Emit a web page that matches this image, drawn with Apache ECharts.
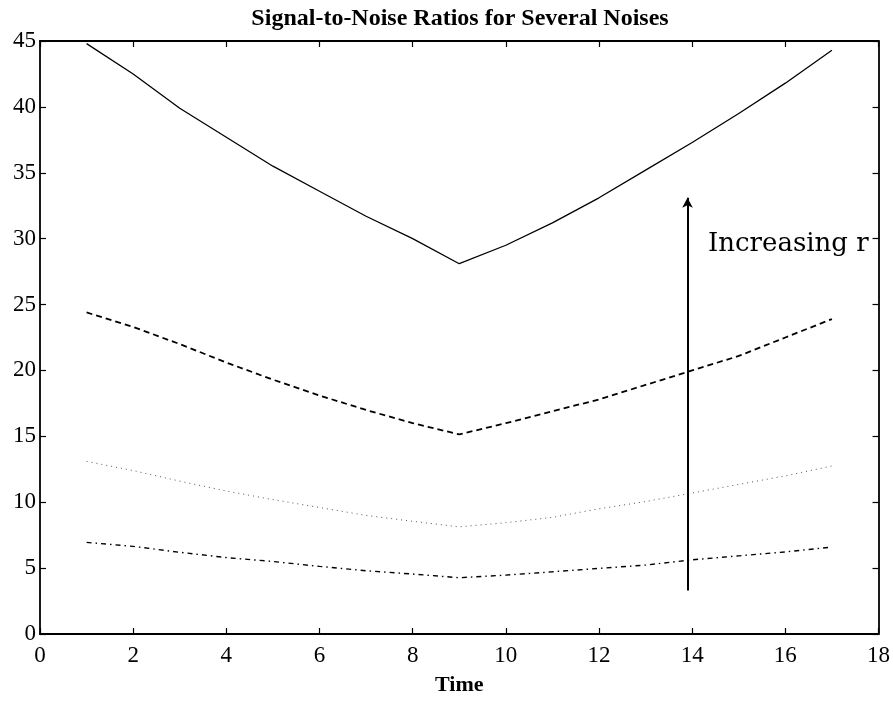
<!DOCTYPE html>
<html>
<head>
<meta charset="utf-8">
<script src="https://cdn.jsdelivr.net/npm/echarts@6/dist/echarts.min.js"></script>
<style>
  html, body { margin: 0; padding: 0; background: #fff; }
  #snr { width: 893px; height: 717px; }
</style>
</head>
<body>
<div id="snr"></div>
<script>
    // time steps and SNR curves (one per noise level)
    var times = [1, 2, 3, 4, 5, 6, 7, 8, 9, 10, 11, 12, 13, 14, 15, 16, 17];
    var snrSolid = [44.8, 42.5, 39.9, 37.7, 35.5, 33.6, 31.7, 30.0, 28.1, 29.5, 31.2, 33.1, 35.2, 37.3, 39.5, 41.8, 44.3];
    var snrDashed = [24.4, 23.3, 22.0, 20.6, 19.3, 18.1, 17.0, 16.0, 15.15, 16.0, 16.9, 17.8, 18.9, 20.0, 21.1, 22.5, 23.9];
    var snrDotted = [13.1, 12.4, 11.6, 10.85, 10.2, 9.6, 9.0, 8.55, 8.13, 8.45, 8.85, 9.5, 10.05, 10.7, 11.35, 12.0, 12.75];
    var snrDashDot = [6.95, 6.65, 6.2, 5.8, 5.5, 5.13, 4.8, 4.55, 4.27, 4.47, 4.72, 4.98, 5.23, 5.63, 5.93, 6.23, 6.6];

    var xTicks = [0, 2, 4, 6, 8, 10, 12, 14, 16, 18];
    var yTicks = [0, 5, 10, 15, 20, 25, 30, 35, 40, 45];

    // arrow "Increasing r"
    var arrowFrom = [13.9, 3.3];
    var arrowTo = [13.9, 33.1];
    var arrowText = [14.34, 29.6];

    function pairs(ys) {
        return times.map(function (t, i) { return [t, ys[i]]; });
    }

    var dom = document.getElementById('snr');
    var snrChart = echarts.init(dom, null, { renderer: 'canvas' });

    var serif = 'Liberation Serif';
    var axisLine = { show: true, onZero: false, lineStyle: { color: '#000', width: 1.8 } };
    var tick = { show: true, inside: true, length: 6, lineStyle: { color: '#000', width: 1.2 } };

    var option = {
        backgroundColor: '#fff',
        animation: false,
        title: {
            text: 'Signal-to-Noise Ratios for Several Noises',
            left: 455,
            textAlign: 'center',
            top: 2,
            textStyle: { fontFamily: serif, fontWeight: 'bold', fontSize: 24, color: '#000' }
        },
        grid: { left: 40, right: 14, top: 41, bottom: 83 },
        xAxis: [{
            type: 'value', min: xTicks[0], max: xTicks[xTicks.length - 1], interval: 2,
            axisLine: axisLine, axisTick: tick, splitLine: { show: false },
            axisLabel: { fontFamily: serif, fontSize: 23, color: '#000', margin: 10 },
            name: 'Time', nameLocation: 'middle', nameGap: 40,
            nameTextStyle: { fontFamily: serif, fontWeight: 'bold', fontSize: 22, color: '#000' }
        }, {
            type: 'value', position: 'top', min: xTicks[0], max: xTicks[xTicks.length - 1], interval: 2,
            axisLine: axisLine, axisTick: tick, splitLine: { show: false }, axisLabel: { show: false }
        }],
        yAxis: [{
            type: 'value', min: yTicks[0], max: yTicks[yTicks.length - 1], interval: 5,
            axisLine: axisLine, axisTick: tick, splitLine: { show: false },
            axisLabel: { fontFamily: serif, fontSize: 23, color: '#000', margin: 4 }
        }, {
            type: 'value', position: 'right', min: yTicks[0], max: yTicks[yTicks.length - 1], interval: 5,
            axisLine: axisLine, axisTick: tick, splitLine: { show: false }, axisLabel: { show: false }
        }],
        series: [{
            type: 'line', data: pairs(snrSolid), showSymbol: false,
            lineStyle: { color: '#000', width: 1.3, type: 'solid' }
        }, {
            type: 'line', data: pairs(snrDashed), showSymbol: false,
            lineStyle: { color: '#000', width: 1.8, type: [6, 4] }
        }, {
            type: 'line', data: pairs(snrDotted), showSymbol: false,
            lineStyle: { color: '#555', width: 1, type: [1, 4] }
        }, {
            type: 'line', data: pairs(snrDashDot), showSymbol: false,
            lineStyle: { color: '#000', width: 1.4, type: [5, 4, 1.5, 4] },
            markLine: {
                silent: true, animation: false,
                symbol: ['none', 'arrow'], symbolSize: [8, 10],
                label: { show: false },
                lineStyle: { color: '#000', width: 2, type: 'solid' },
                data: [[{ coord: arrowFrom }, { coord: arrowTo }]]
            },
            markPoint: {
                silent: true, symbol: 'circle', symbolSize: 0,
                label: {
                    show: true, position: 'right', distance: 0,
                    formatter: 'Increasing r',
                    fontFamily: 'DejaVu Serif', fontSize: 26, color: '#000'
                },
                data: [{ coord: arrowText }]
            }
        }]
    };

    option && snrChart.setOption(option);
</script>
</body>
</html>
